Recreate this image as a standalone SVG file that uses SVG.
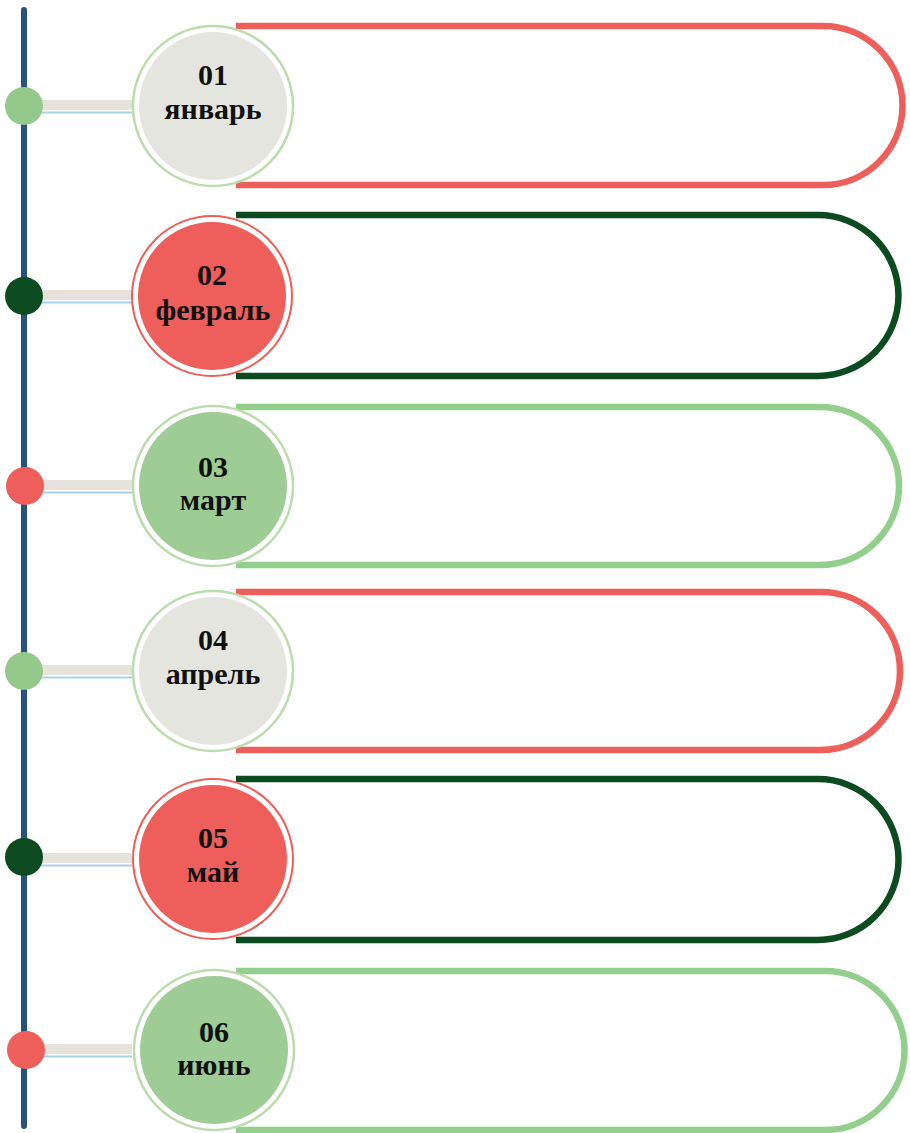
<svg xmlns="http://www.w3.org/2000/svg" width="910" height="1133" viewBox="0 0 910 1133">
<style>
.pill{fill:none;stroke-width:6.5}
.red{stroke:#ee5e5a}.dg{stroke:#0c4a1f}.lg{stroke:#93cf8c}
.t{font-family:"Liberation Serif","Times New Roman",serif;font-weight:bold;fill:#111;text-anchor:middle}
.n{font-size:30px}.m{font-size:30px}
.bar{fill:#e7e3dc}.bl{stroke:#a9d2ea;stroke-width:2}
</style>
<rect width="910" height="1133" fill="#fff"/>
<g id="connectors">
<line x1="24" y1="10" x2="24" y2="1126" stroke="#27517f" stroke-width="6" stroke-linecap="round"/>
<g id="link1"><rect class="bar" x="40" y="100" width="92" height="10"/><line class="bl" x1="40" y1="112.5" x2="132" y2="112.5"/></g>
<g id="link2"><rect class="bar" x="40" y="290" width="92" height="10"/><line class="bl" x1="40" y1="302.5" x2="132" y2="302.5"/></g>
<g id="link3"><rect class="bar" x="40" y="480" width="92" height="10"/><line class="bl" x1="40" y1="492.5" x2="132" y2="492.5"/></g>
<g id="link4"><rect class="bar" x="40" y="665" width="92" height="10"/><line class="bl" x1="40" y1="677.5" x2="132" y2="677.5"/></g>
<g id="link5"><rect class="bar" x="40" y="853" width="92" height="10"/><line class="bl" x1="40" y1="865.5" x2="132" y2="865.5"/></g>
<g id="link6"><rect class="bar" x="40" y="1044" width="92" height="10"/><line class="bl" x1="40" y1="1056.5" x2="132" y2="1056.5"/></g>
</g>
<g id="dots">
<circle cx="24" cy="106" r="19" fill="#95c98b"/>
<circle cx="24" cy="296" r="19" fill="#0c4a1f"/>
<circle cx="25" cy="486" r="19" fill="#ee5e5a"/>
<circle cx="24" cy="671" r="19" fill="#95c98b"/>
<circle cx="24" cy="857" r="19" fill="#0c4a1f"/>
<circle cx="26" cy="1050" r="19" fill="#ee5e5a"/>
</g>
<g id="node1">
<path class="pill red" d="M236,26 H823 A79.5,79.5 0 0 1 823,185 H236"/>
<circle cx="213" cy="106" r="80" fill="#fff" stroke="#bcdcae" stroke-width="2.5"/>
<circle cx="213" cy="106" r="74" fill="#e5e5e0"/>
<text class="t n" x="213" y="85">01</text>
<text class="t m" x="213" y="119">январь</text>
</g>
<g id="node2">
<path class="pill dg" d="M236,215 H818 A80.5,80.5 0 0 1 818,376 H236"/>
<circle cx="212" cy="296" r="80" fill="#fff" stroke="#ee5e5a" stroke-width="2"/>
<circle cx="212" cy="296" r="74" fill="#ee5e5a"/>
<text class="t n" x="212" y="285">02</text>
<text class="t m" x="213" y="320">февраль</text>
</g>
<g id="node3">
<path class="pill lg" d="M236,407 H820 A79,79 0 0 1 820,565 H236"/>
<circle cx="213" cy="486" r="80" fill="#fff" stroke="#bcdcae" stroke-width="2.5"/>
<circle cx="213" cy="486" r="74" fill="#9ecc95"/>
<text class="t n" x="213" y="477">03</text>
<text class="t m" x="213" y="510">март</text>
</g>
<g id="node4">
<path class="pill red" d="M236,592 H821 A79,79 0 0 1 821,750 H236"/>
<circle cx="213" cy="671" r="80" fill="#fff" stroke="#bcdcae" stroke-width="2.5"/>
<circle cx="213" cy="671" r="74" fill="#e5e5e0"/>
<text class="t n" x="213" y="650">04</text>
<text class="t m" x="213" y="684">апрель</text>
</g>
<g id="node5">
<path class="pill dg" d="M236,779 H818 A80.5,80.5 0 0 1 818,940 H236"/>
<circle cx="213" cy="859" r="80" fill="#fff" stroke="#ee5e5a" stroke-width="2"/>
<circle cx="213" cy="859" r="74" fill="#ee5e5a"/>
<text class="t n" x="213" y="848">05</text>
<text class="t m" x="213" y="882">май</text>
</g>
<g id="node6">
<path class="pill lg" d="M236,971 H825 A79.5,79.5 0 0 1 825,1130 H236"/>
<circle cx="214" cy="1050" r="80" fill="#fff" stroke="#bcdcae" stroke-width="2.5"/>
<circle cx="214" cy="1050" r="74" fill="#9ecc95"/>
<text class="t n" x="214" y="1042">06</text>
<text class="t m" x="214" y="1075">июнь</text>
</g>
</svg>
